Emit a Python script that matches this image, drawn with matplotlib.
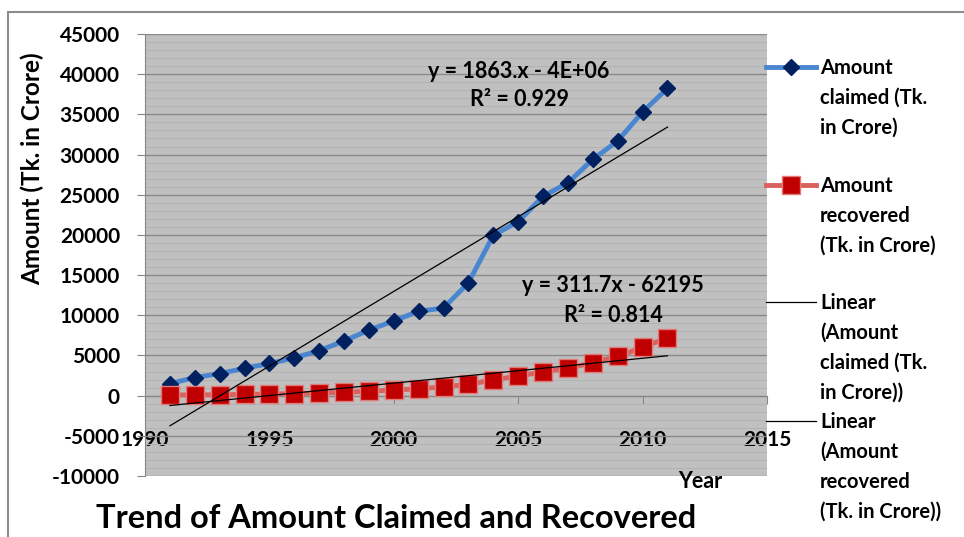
import matplotlib
matplotlib.use('Agg')
import matplotlib.pyplot as plt
import numpy as np
from matplotlib.lines import Line2D
from matplotlib.ticker import MultipleLocator

plt.rcParams['font.family'] = ['Lato', 'DejaVu Sans']
plt.rcParams['axes.unicode_minus'] = False

# ---- data (Tk. in Crore) ----
years = list(range(1991, 2012))
claimed = [1500, 2250, 2750, 3400, 4000, 4700, 5600, 6800, 8150, 9300, 10500,
           10900, 14050, 19950, 21650, 24800, 26500, 29400, 31700, 35300, 38250]
recovered = [75, 100, 110, 150, 200, 250, 330, 420, 540, 700, 850,
             1100, 1400, 1950, 2450, 2950, 3400, 4100, 4900, 6000, 7200]
x_ticks = [1990, 1995, 2000, 2005, 2010, 2015]
y_ticks = list(range(-10000, 45001, 5000))

eq_claimed = ['y = 1863.x - 4E+06', 'R² = 0.929']
eq_recovered = ['y = 311.7x - 62195', 'R² = 0.814']

legend_labels = [
    ['Amount', 'claimed (Tk.', 'in Crore)'],
    ['Amount', 'recovered', '(Tk. in Crore)'],
    ['Linear', '(Amount', 'claimed (Tk.', 'in Crore))'],
    ['Linear', '(Amount', 'recovered', '(Tk. in Crore))'],
]

# ---- colours ----
BLUE_LINE = '#4A86CF'
BLUE_MARK = '#002060'
RED_LINE = '#D9625F'
RED_MARK = '#C00000'
RED_EDGE = '#E27A78'
PLOT_BG = '#C0C0C0'
GRID_MAJ = '#8A8A8A'
GRID_MIN = '#B3B3B3'
AXIS_COL = '#868686'

W, H = 964, 537
def fx(px): return px / W
def fy(py): return 1 - py / H

fig = plt.figure(figsize=(W / 100, H / 100), dpi=100)
fig.patch.set_facecolor('white')
ax = fig.add_axes([fx(145), fy(476), fx(767) - fx(145), fy(34) - fy(476)])
ax.set_facecolor(PLOT_BG)

blue_style = dict(color=BLUE_LINE, lw=3.5, marker='D', ms=8.5,
                  mfc=BLUE_MARK, mec=BLUE_MARK)
red_style = dict(color=RED_LINE, lw=3.5, marker='s', ms=13.5,
                 mfc=RED_MARK, mec=RED_EDGE, mew=1)

# series
ax.plot(years, claimed, zorder=3, **blue_style)
ax.plot(years, recovered, zorder=3, **red_style)

# linear trendlines
for series in (claimed, recovered):
    k, b = np.polyfit(years, series, 1)
    xs = np.array([years[0], years[-1]])
    ax.plot(xs, k * xs + b, color='black', lw=0.9, zorder=4)

ax.set_xlim(1990, 2015)
ax.set_ylim(-10000, 45000)
ax.set_xticks(x_ticks)
ax.set_yticks(y_ticks)
ax.yaxis.set_minor_locator(MultipleLocator(1000))
ax.set_axisbelow(True)
ax.grid(which='major', axis='y', color=GRID_MAJ, lw=1.0)
ax.grid(which='minor', axis='y', color=GRID_MIN, lw=0.8)

for s in ('top', 'right'):
    ax.spines[s].set_visible(False)
ax.spines['left'].set_color(AXIS_COL)
ax.spines['bottom'].set_position(('data', 0))
ax.spines['bottom'].set_color(AXIS_COL)

ax.tick_params(axis='y', which='major', direction='out', length=6, color=AXIS_COL,
               pad=12, labelsize=15)
ax.tick_params(axis='x', which='major', direction='out', length=6, color=AXIS_COL,
               pad=19, labelsize=15)
ax.tick_params(which='minor', length=0)
for lbl in ax.get_xticklabels() + ax.get_yticklabels():
    lbl.set_fontweight('bold')

# trendline equations
for i, line in enumerate(eq_claimed):
    fig.text(fx(519), fy(72 + 28 * i), line, ha='center', va='center',
             fontsize=15.5, fontweight='bold')
for i, line in enumerate(eq_recovered):
    fig.text(fx(613), fy(286 + 29 * i), line, ha='center', va='center',
             fontsize=15.5, fontweight='bold')

# axis titles and chart title
fig.text(fx(32), fy(169), 'Amount (Tk. in Crore)', rotation=90, ha='center',
         va='center', fontsize=17.5, fontweight='bold')
fig.text(fx(700), fy(481), 'Year', ha='center', va='center',
         fontsize=15.5, fontweight='bold')
fig.text(fx(396), fy(519), 'Trend of Amount Claimed and Recovered', ha='center',
         va='center', fontsize=23.5, fontweight='bold')

# outer frame
fig.add_artist(Line2D([fx(8), fx(8)], [fy(12), 0], color='#8C8C8C', lw=1.5))
fig.add_artist(Line2D([fx(8), 1], [fy(12), fy(12)], color='#8C8C8C', lw=1.5))

# legend
samples = [blue_style, red_style,
           dict(color='black', lw=0.9), dict(color='black', lw=0.9)]
legend_top = [68, 186, 303, 422]
for style, top, lines in zip(samples, legend_top, legend_labels):
    fig.add_artist(Line2D([fx(766), fx(791), fx(816)], [fy(top - 1)] * 3,
                          markevery=[1], **style))
    for j, txt in enumerate(lines):
        fig.text(fx(820), fy(top + 30 * j), txt, ha='left', va='center',
                 fontsize=14.5, fontweight='bold')

fig.savefig('out.png', dpi=100, facecolor='white')
